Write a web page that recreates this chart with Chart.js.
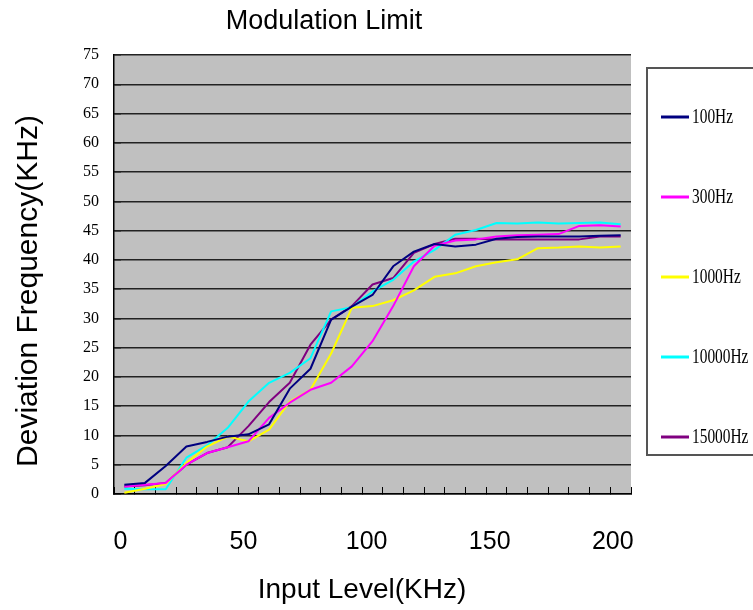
<!DOCTYPE html>
<html>
<head>
<meta charset="utf-8">
<title>Modulation Limit</title>
<script src="https://cdn.jsdelivr.net/npm/chart.js@4.4.0/dist/chart.umd.min.js"></script>
<style>
  body { margin: 0; background: #fff; }
  canvas { display: block; }
</style>
</head>
<body>
<canvas id="modChart" width="753" height="610"></canvas>
<script>
// Measurement steps across the input range (25 readings)
const steps = [1, 2, 3, 4, 5, 6, 7, 8, 9, 10, 11, 12, 13, 14, 15, 16, 17, 18, 19, 20, 21, 22, 23, 24, 25];
const inputTicks = [0, 50, 100, 150, 200];

// Deviation (KHz) for each modulation frequency
const hz100 = [1.6, 1.9, 4.8, 8.1, 8.9, 9.8, 10.2, 11.9, 18.0, 21.4, 29.8, 32.0, 34.0, 38.9, 41.4, 42.7, 42.3, 42.6, 43.6, 43.9, 44.0, 44.0, 44.0, 44.1, 44.2];
const hz300 = [1.3, 1.6, 1.9, 5.0, 7.0, 8.0, 9.0, 13.0, 15.6, 17.8, 19.0, 21.8, 26.1, 32.1, 38.9, 42.4, 43.3, 43.5, 44.0, 44.2, 44.3, 44.4, 45.8, 45.9, 45.7];
const hz1000 = [0.2, 0.9, 1.7, 5.3, 8.1, 9.8, 9.0, 11.0, 15.8, 17.8, 24.0, 31.8, 32.1, 33.1, 34.8, 37.1, 37.7, 38.9, 39.6, 40.1, 42.0, 42.1, 42.3, 42.1, 42.3];
const hz10000 = [0.9, 0.8, 0.8, 6.2, 8.3, 11.3, 15.8, 19.0, 20.7, 23.2, 31.2, 31.9, 34.6, 36.6, 39.7, 41.7, 44.3, 45.1, 46.3, 46.2, 46.4, 46.2, 46.3, 46.4, 46.1];
const hz15000 = [1.3, 1.5, 1.9, 5.0, 7.0, 8.0, 11.6, 15.7, 19.0, 25.5, 29.8, 32.1, 35.8, 36.9, 41.2, 42.7, 43.6, 43.6, 43.5, 43.5, 43.5, 43.5, 43.5, 44.0, 44.0];

const seriesNames = ['100Hz', '300Hz', '1000Hz', '10000Hz', '15000Hz'];
const seriesData = [hz100, hz300, hz1000, hz10000, hz15000];
const seriesColors = ['#000080', '#ff00ff', '#ffff00', '#00ffff', '#800080'];

// white page + grey plot area
const plotBackground = {
  id: 'plotBackground',
  beforeDraw(chart) {
    const { ctx, chartArea: a } = chart;
    ctx.save();
    ctx.fillStyle = '#fff';
    ctx.fillRect(0, 0, chart.width, chart.height);
    ctx.fillStyle = '#c0c0c0';
    ctx.fillRect(a.left, a.top, a.right - a.left, a.bottom - a.top);
    ctx.restore();
  }
};

// chart title and axis titles
const textLabels = {
  id: 'textLabels',
  afterDraw(chart) {
    const ctx = chart.ctx;
    ctx.save();
    ctx.fillStyle = '#000';
    ctx.textAlign = 'center';
    ctx.textBaseline = 'alphabetic';
    ctx.font = '27px "Liberation Sans", Arial, sans-serif';
    ctx.fillText('Modulation Limit', 324, 29);
    ctx.font = '28px "Liberation Sans", Arial, sans-serif';
    ctx.fillText('Input Level(KHz)', 362, 598);
    ctx.translate(37, 291);
    ctx.rotate(-Math.PI / 2);
    ctx.font = '30px "Liberation Sans", Arial, sans-serif';
    ctx.fillText('Deviation Frequency(KHz)', 0, 0);
    ctx.restore();
  }
};

// boxed legend on the right
const sideLegend = {
  id: 'sideLegend',
  afterDraw(chart) {
    const ctx = chart.ctx;
    ctx.save();
    ctx.strokeStyle = '#555';
    ctx.lineWidth = 2;
    ctx.strokeRect(647, 68, 120, 387);
    chart.data.datasets.forEach((ds, i) => {
      const y = 117 + i * 80;
      ctx.strokeStyle = ds.borderColor;
      ctx.lineWidth = 3;
      ctx.beginPath();
      ctx.moveTo(661, y);
      ctx.lineTo(689, y);
      ctx.stroke();
      ctx.save();
      ctx.translate(692, y);
      ctx.scale(0.7, 1);
      ctx.font = '22px "Liberation Serif", serif';
      ctx.textBaseline = 'middle';
      ctx.fillStyle = '#000';
      ctx.fillText(ds.label, 0, 0);
      ctx.restore();
    });
    ctx.restore();
  }
};

new Chart(document.getElementById('modChart'), {
  type: 'line',
  data: {
    labels: steps,
    datasets: seriesNames.map((name, i) => ({
      label: name,
      data: seriesData[i],
      borderColor: seriesColors[i],
      borderWidth: 2,
      borderJoinStyle: 'round',
      pointRadius: 0,
      tension: 0,
      fill: false
    }))
  },
  options: {
    responsive: false,
    animation: false,
    layout: { padding: { top: 55, right: 122, bottom: 0, left: 0 } },
    plugins: {
      legend: { display: false },
      title: { display: false },
      tooltip: { enabled: false }
    },
    scales: {
      x: {
        type: 'category',
        position: 'bottom',
        weight: 0,
        offset: true,
        grid: { offset: true, drawOnChartArea: false, drawTicks: true, tickLength: -7, color: '#000', lineWidth: 1 },
        border: { display: true, color: '#000', width: 1.5 },
        ticks: { display: false },
        afterFit(s) { s.height = 0; }
      },
      x2: {
        type: 'linear',
        position: 'bottom',
        weight: 1,
        min: -2.6,
        max: 207.4,
        grid: { display: false, drawTicks: false },
        border: { display: false },
        ticks: { padding: 33, color: '#000', font: { family: '"Liberation Sans", Arial, sans-serif', size: 25 } },
        afterBuildTicks(s) { s.ticks = inputTicks.map(v => ({ value: v })); },
        afterFit(s) { s.height = 116; }
      },
      y: {
        min: 0,
        max: 75,
        ticks: { stepSize: 5, padding: 22, color: '#000', font: { family: '"Liberation Serif", serif', size: 16 } },
        grid: { color: '#222', lineWidth: 1.5, drawTicks: true, tickLength: -7 },
        border: { display: true, color: '#000', width: 1.5 },
        afterFit(s) { s.width = 114; }
      }
    }
  },
  plugins: [plotBackground, textLabels, sideLegend]
});
</script>
</body>
</html>
